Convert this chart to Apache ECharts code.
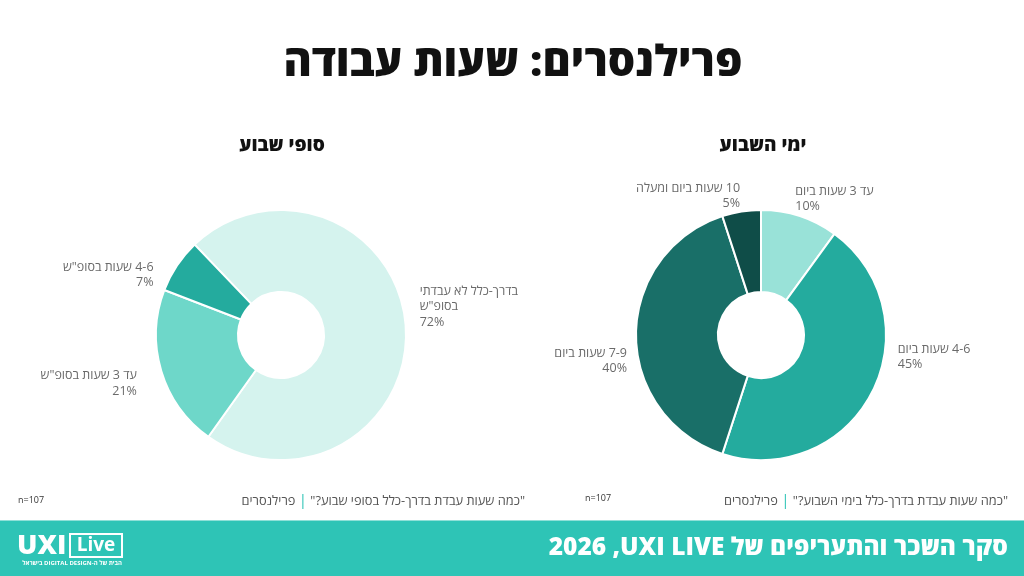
<!DOCTYPE html>
<html>
<head>
<meta charset="utf-8">
<script src="https://cdn.jsdelivr.net/npm/echarts@6/dist/echarts.min.js"></script>
<style>
  html, body { margin: 0; padding: 0; background: #fff; }
  #chart { width: 1024px; height: 576px; }
</style>
</head>
<body>
<div id="chart" dir="rtl"></div>
<script>
// weekend hours (left donut)
const weekendNames = ['בדרך-כלל לא עבדתי\nבסופ"ש', 'עד 3 שעות בסופ"ש', '4-6 שעות בסופ"ש']
const weekendValues = [72, 21, 7]
const weekendColors = ['#d5f3ee', '#6ed7c9', '#24ab9e']

// weekday hours (right donut)
const weekdayNames = ['עד 3 שעות ביום', '4-6 שעות ביום', '7-9 שעות ביום', '10 שעות ביום ומעלה']
const weekdayValues = [10, 45, 40, 5]
const weekdayColors = ['#99e2d8', '#24ab9e', '#196f68', '#0f4d48']

// small nudges so labels sit where the original put them
const weekendLabelShift = [[-6, -18.5], [-5, 8], [-6, 17.5]]
const weekdayLabelShift = [[-14, -3], [7, -41.5], [11, 26], [6, -1]]

const FONT = "'Open Sans', 'Liberation Sans', 'DejaVu Sans', sans-serif"
const TEAL = '#2ec4b6'
const RLM = '\u200F'

const toData = (names, values) => names.map((n, i) => ({ name: n, value: values[i] }))

const donut = (names, values, colors, center, startAngle, shift) => ({
  type: 'pie',
  center: center,
  radius: [43, 125],
  startAngle: startAngle,
  avoidLabelOverlap: false,
  color: colors,
  itemStyle: { borderColor: '#fff', borderWidth: 2 },
  emphasis: { disabled: true },
  label: {
    show: true,
    position: 'outside',
    formatter: '{b}\n{c}%',
    color: '#6a6a6a',
    fontFamily: FONT,
    fontSize: 12.5,
    lineHeight: 15.5,
    distanceToLabelLine: 5
  },
  labelLine: { show: false, length: 15, length2: 0 },
  labelLayout: (p) => ({ dx: shift[p.dataIndex][0], dy: shift[p.dataIndex][1] }),
  data: toData(names, values)
})

const note = (x, question) => ({
  type: 'text', x: x, y: 501,
  style: {
    // tokens in visual order (left to right), each drawn right-to-left
    text: '{g|פרילנסרים} {bar||} {g|"' + question + '"}',
    align: 'right', verticalAlign: 'middle',
    fontFamily: FONT, fontSize: 13, fill: '#555',
    rich: {
      g: { fill: '#555', fontFamily: FONT, fontSize: 12.8 },
      bar: { fill: TEAL, fontFamily: FONT, fontSize: 15 }
    }
  }
})

const option = {
  animation: false,
  title: [
    {
      text: 'פרילנסרים: שעות עבודה',
      left: 508, top: 37, textAlign: 'center',
      textStyle: { fontFamily: FONT, fontSize: 43, fontWeight: 800, color: '#111' }
    },
    {
      text: 'סופי שבוע',
      left: 277, top: 131, textAlign: 'center',
      textStyle: { fontFamily: FONT, fontSize: 19, fontWeight: 800, color: '#111' }
    },
    {
      text: 'ימי השבוע',
      left: 758, top: 131, textAlign: 'center',
      textStyle: { fontFamily: FONT, fontSize: 19, fontWeight: 800, color: '#111' }
    }
  ],
  series: [
    donut(weekendNames, weekendValues, weekendColors, [281, 335], 133.7, weekendLabelShift),
    donut(weekdayNames, weekdayValues, weekdayColors, [761, 335], 90, weekdayLabelShift)
  ],
  graphic: [
    // source notes
    note(525, 'כמה שעות עבדת בדרך-כלל בסופי שבוע?'),
    note(1008, 'כמה שעות עבדת בדרך-כלל בימי השבוע?'),
    {
      type: 'text', x: 18, y: 500,
      style: { text: 'n=107', align: 'left', verticalAlign: 'middle', fontFamily: FONT, fontSize: 9, fill: '#333' }
    },
    {
      type: 'text', x: 585, y: 498,
      style: { text: 'n=107', align: 'left', verticalAlign: 'middle', fontFamily: FONT, fontSize: 9, fill: '#333' }
    },
    // footer band
    {
      type: 'rect', shape: { x: 0, y: 520, width: 1024, height: 56 },
      style: { fill: TEAL }
    },
    {
      type: 'rect', shape: { x: 0, y: 520, width: 1024, height: 1 },
      style: { fill: '#8fe0d8' }
    },
    {
      type: 'text', x: 1008, y: 548,
      style: {
        text: 'סקר השכר והתעריפים של UXI LIVE' + RLM + ', 2026',
        align: 'right', verticalAlign: 'middle',
        fontFamily: FONT, fontSize: 24.5, fontWeight: 800, fill: '#fff'
      }
    },
    // logo
    {
      type: 'text', x: 17, y: 546,
      style: { text: 'UXI', align: 'left', verticalAlign: 'middle', fontFamily: FONT, fontSize: 27, fontWeight: 900, fill: '#fff' }
    },
    {
      type: 'rect', shape: { x: 70, y: 534, width: 52, height: 23 },
      style: { fill: 'none', stroke: '#fff', lineWidth: 2 }
    },
    {
      type: 'text', x: 96, y: 546,
      style: { text: 'Live', align: 'center', verticalAlign: 'middle', fontFamily: FONT, fontSize: 19, fontWeight: 700, fill: '#fff' }
    },
    {
      type: 'text', x: 122, y: 563,
      style: { text: 'הבית של ה-DIGITAL DESIGN בישראל', align: 'right', verticalAlign: 'middle', fontFamily: FONT, fontSize: 6, fontWeight: 700, fill: '#fff' }
    }
  ]
}

const chart = echarts.init(document.getElementById('chart'))
chart.setOption(option)
</script>
</body>
</html>
